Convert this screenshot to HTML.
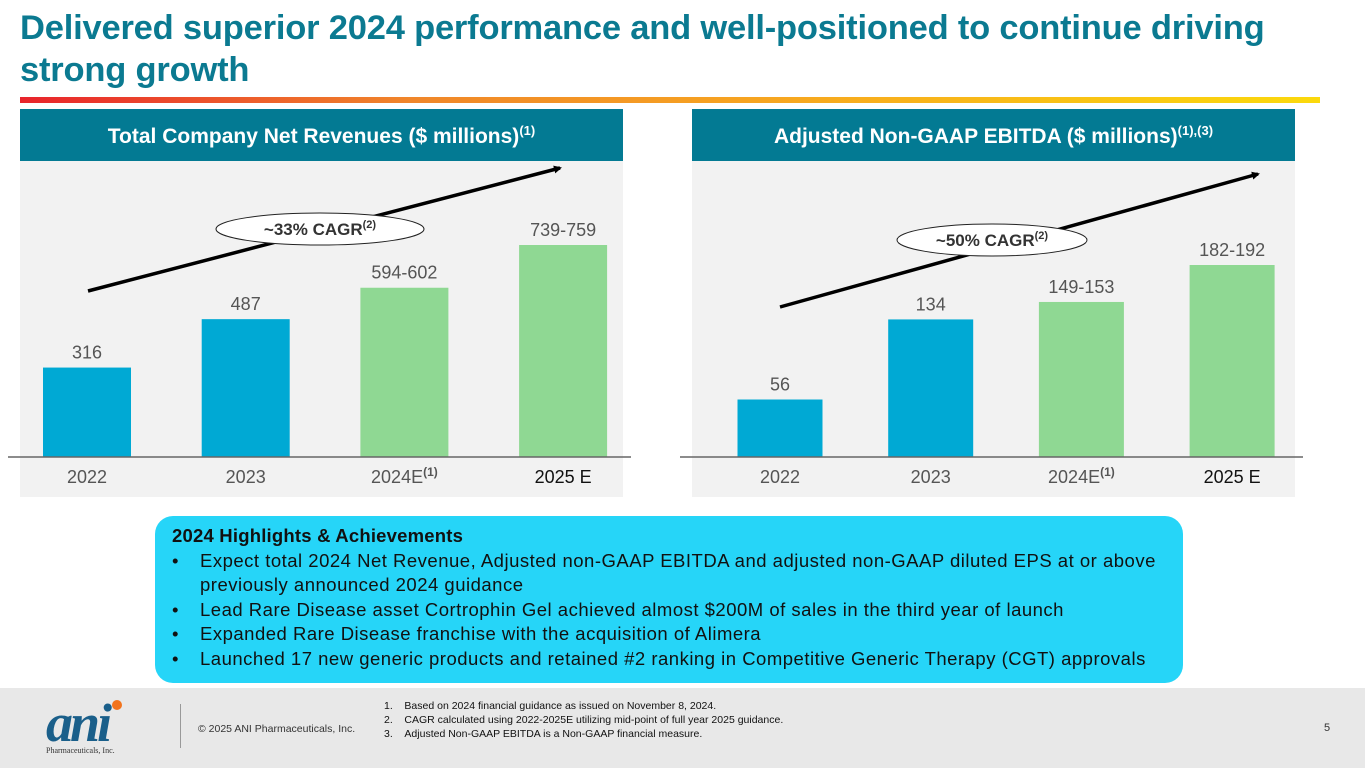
<!DOCTYPE html>
<html><head><meta charset="utf-8"><style>
*{margin:0;padding:0;box-sizing:border-box}
body{width:1365px;height:768px;position:relative;background:#fff;font-family:"Liberation Sans",sans-serif;overflow:hidden}
.title{position:absolute;left:20px;top:7px;width:1340px;color:#0b7a91;font-weight:bold;font-size:34.5px;line-height:42px;letter-spacing:-0.2px}
.grad{position:absolute;left:20px;top:97px;width:1300px;height:6px;background:linear-gradient(90deg,#e8242c,#f0862a 30%,#f7a81f 60%,#fbd90c)}
.hl{position:absolute;left:155px;top:516px;width:1028px;height:167px;background:#26d5f8;border-radius:18px;padding:8px 0 0 17px;font-size:18.5px;line-height:24.5px;color:#111;letter-spacing:0.5px}
.hl b{display:block;letter-spacing:0.2px}
.hl .li{position:relative;padding-left:28px;white-space:nowrap}
.hl .li:before{content:"•";position:absolute;left:0}
.foot{position:absolute;left:0;top:688px;width:1365px;height:80px;background:#e8e8e8}
</style></head><body>
<div class="title">Delivered superior 2024 performance and well-positioned to continue driving<br>strong growth</div>
<div class="grad"></div>
<svg width="1365" height="510" style="position:absolute;left:0;top:0" id="charts">
<defs><marker id="ah" markerWidth="8" markerHeight="8" refX="6" refY="4" orient="auto" markerUnits="userSpaceOnUse"><path d="M0,0 L8,4 L0,8 z" fill="#000"/></marker></defs>
</svg>
<div class="hl">
<b>2024 Highlights &amp; Achievements</b>
<div class="li">Expect total 2024 Net Revenue, Adjusted non-GAAP EBITDA and adjusted non-GAAP diluted EPS at or above<br>previously announced 2024 guidance</div>
<div class="li">Lead Rare Disease asset Cortrophin Gel achieved almost $200M of sales in the third year of launch</div>
<div class="li">Expanded Rare Disease franchise with the acquisition of Alimera</div>
<div class="li">Launched 17 new generic products and retained #2 ranking in Competitive Generic Therapy (CGT) approvals</div>
</div>
<div class="foot">
<div style="position:absolute;left:46px;top:12px;width:115px;height:56px">
<div style="font-family:'Liberation Serif',serif;font-style:italic;font-weight:bold;font-size:54px;color:#1a5f8a;line-height:46px;letter-spacing:-3px">ani</div>
<div style="position:absolute;left:66px;top:0px;width:10px;height:10px;border-radius:50%;background:#f2731c"></div>
<div style="font-family:'Liberation Serif',serif;font-size:8px;color:#333">Pharmaceuticals, Inc.</div></div>
<div style="position:absolute;left:180px;top:16px;width:1px;height:44px;background:#999"></div>
<div style="position:absolute;left:198px;top:35px;font-size:10.5px;color:#333">© 2025 ANI Pharmaceuticals, Inc.</div>
<div style="position:absolute;left:384px;top:11px;font-size:10.5px;line-height:14px;color:#111">
<div>1.&nbsp;&nbsp;&nbsp;&nbsp;Based on 2024 financial guidance as issued on November 8, 2024.</div>
<div>2.&nbsp;&nbsp;&nbsp;&nbsp;CAGR calculated using 2022-2025E utilizing mid-point of full year 2025 guidance.</div>
<div>3.&nbsp;&nbsp;&nbsp;&nbsp;Adjusted Non-GAAP EBITDA is a Non-GAAP financial measure.</div></div>
<div style="position:absolute;left:1324px;top:34px;font-size:11px;color:#333">5</div>
</div>
<script>
const categories=["2022","2023","2024E","2025 E"];
const revenueValues=[316,487,598,749];
const revenueLabels=["316","487","594-602","739-759"];
const ebitdaValues=[56,134,151,187];
const ebitdaLabels=["56","134","149-153","182-192"];
const estimateFlags=[false,false,true,true];
const svg=document.getElementById('charts');
const NS='http://www.w3.org/2000/svg';
function mk(t,a){const e=document.createElementNS(NS,t);for(const k in a)e.setAttribute(k,a[k]);svg.appendChild(e);return e;}
function chart(px,title,sup,vals,labels,maxV,plotH,x0,step,bw,cagr,arrow,ell){
  const W=603,base=457;
  let r=mk('rect',{x:px,y:109,width:W,height:52,fill:'#037a93'});
  
  let g=mk('rect',{x:px,y:161,width:W,height:336,fill:'#f2f2f2'});
  
  let t=mk('text',{x:px+W/2,y:143,'text-anchor':'middle',fill:'#fff','font-size':21,'font-weight':'bold','font-family':'Liberation Sans, sans-serif'});
  t.innerHTML=title+'<tspan font-size="13" dy="-8">'+sup+'</tspan>';
  
  const yScale=v=>base-v/maxV*plotH;
  vals.forEach((v,i)=>{
    const cx=x0+i*step;
    const b=mk('rect',{x:cx-bw/2,y:yScale(v),width:bw,height:base-yScale(v),fill:estimateFlags[i]?'#8fd893':'#00a9d4'});
    
    
    const l=mk('text',{x:cx,y:yScale(v)-9,'text-anchor':'middle',fill:'#555','font-size':18,'font-family':'Liberation Sans, sans-serif'});
    l.textContent=labels[i];
    
    
    const c=mk('text',{x:cx,y:483,'text-anchor':'middle',fill:i==3?'#111':'#555','font-size':18,'font-family':'Liberation Sans, sans-serif'});
    c.innerHTML=categories[i]+(i==2?'<tspan font-size="12" font-weight="bold" dy="-7">(1)</tspan>':'');
    
    
  });
  let ax=mk('line',{x1:px-12,x2:px+W+8,y1:base,y2:base,stroke:'#666','stroke-width':1.5});
  
  let ar=mk('line',{x1:arrow[0],y1:arrow[1],x2:arrow[2],y2:arrow[3],stroke:'#000','stroke-width':3.5,'marker-end':'url(#ah)'});
  
  let el=mk('ellipse',{cx:ell[0],cy:ell[1],rx:ell[2],ry:16,fill:'#fff',stroke:'#222','stroke-width':1});
  
  let ct=mk('text',{x:ell[0],y:ell[1]+6,'text-anchor':'middle',fill:'#333','font-size':17,'font-weight':'bold','font-family':'Liberation Sans, sans-serif'});
  ct.innerHTML=cagr+'<tspan font-size="11" dy="-7">(2)</tspan>';
  
}
chart(20,'Total Company Net Revenues ($ millions)','(1)',revenueValues,revenueLabels,749,212,87,158.7,88,'~33% CAGR',[88,291,560,168],[320,229,104]);
chart(692,'Adjusted Non-GAAP EBITDA ($ millions)','(1),(3)',ebitdaValues,ebitdaLabels,187,192,780,150.7,85,'~50% CAGR',[780,307,1258,174],[992,240,95]);
</script>
</body></html>
